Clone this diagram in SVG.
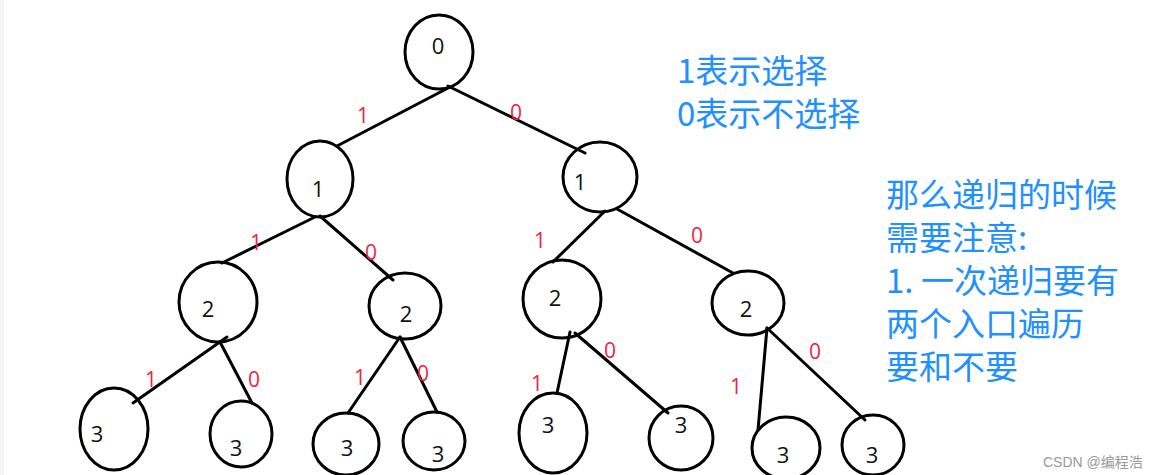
<svg xmlns="http://www.w3.org/2000/svg" width="1158" height="475" viewBox="0 0 1158 475">
<style>
.n ellipse{fill:none;stroke:#000;stroke-width:3}
.n text{font-family:"Open Sans","Liberation Sans",sans-serif;font-size:22px;fill:#111;text-anchor:middle}
#edges line{stroke:#000;stroke-width:3;stroke-linecap:round}
.lb{font-family:"Open Sans","Liberation Sans",sans-serif;font-size:21px;fill:#f0243c;text-anchor:middle}
.note{font-family:"Noto Sans CJK SC","Noto Sans",sans-serif;font-size:33px;fill:#1e90ff}
.wm{font-family:"Liberation Sans","Noto Sans CJK SC",sans-serif;font-size:14px;fill:#999}
</style>
<rect width="1158" height="475" fill="#fff"/>
<rect width="4" height="475" fill="#f3f5f8"/>
<g id="edges">
<line x1="450" y1="87" x2="337" y2="146"/>
<line x1="448" y1="86" x2="585" y2="153"/>
<line x1="315" y1="217" x2="222" y2="263"/>
<line x1="320" y1="216" x2="393" y2="280"/>
<line x1="605" y1="211" x2="553" y2="262"/>
<line x1="617" y1="209" x2="733" y2="273"/>
<line x1="227" y1="337" x2="133" y2="403"/>
<line x1="220" y1="342" x2="252" y2="403"/>
<line x1="400" y1="337" x2="348" y2="413"/>
<line x1="400" y1="337" x2="437" y2="412"/>
<line x1="570" y1="332" x2="557" y2="393"/>
<line x1="575" y1="333" x2="668" y2="413"/>
<line x1="767" y1="328" x2="758" y2="430"/>
<line x1="767" y1="328" x2="865" y2="420"/>
<text class="lb" x="363" y="123">1</text>
<text class="lb" x="516" y="120">0</text>
<text class="lb" x="256" y="250">1</text>
<text class="lb" x="371" y="260">0</text>
<text class="lb" x="540" y="248">1</text>
<text class="lb" x="697" y="243">0</text>
<text class="lb" x="151" y="387">1</text>
<text class="lb" x="254" y="387">0</text>
<text class="lb" x="360" y="385">1</text>
<text class="lb" x="423" y="381">0</text>
<text class="lb" x="537" y="391">1</text>
<text class="lb" x="610" y="358">0</text>
<text class="lb" x="736" y="394">1</text>
<text class="lb" x="815" y="359">0</text>
</g>
<g id="n0" class="n"><ellipse cx="439" cy="52" rx="34" ry="37"/><text x="438" y="54">0</text></g>
<g id="n1a" class="n"><ellipse cx="320" cy="179" rx="33" ry="38"/><text x="318" y="197">1</text></g>
<g id="n1b" class="n"><ellipse cx="600" cy="177" rx="37" ry="35"/><text x="580" y="190">1</text></g>
<g id="n2a" class="n"><ellipse cx="218" cy="302" rx="39" ry="40"/><text x="208" y="317">2</text></g>
<g id="n2b" class="n"><ellipse cx="405" cy="306" rx="36" ry="33"/><text x="406" y="322">2</text></g>
<g id="n2c" class="n"><ellipse cx="562" cy="299" rx="39" ry="39"/><text x="555" y="306">2</text></g>
<g id="n2d" class="n"><ellipse cx="748" cy="303" rx="36" ry="32"/><text x="746" y="317">2</text></g>
<g id="n3a" class="n"><ellipse cx="114" cy="429" rx="34" ry="41"/><text x="97" y="442">3</text></g>
<g id="n3b" class="n"><ellipse cx="241" cy="434" rx="31" ry="33"/><text x="236" y="456">3</text></g>
<g id="n3c" class="n"><ellipse cx="346" cy="444" rx="33" ry="31"/><text x="347" y="456">3</text></g>
<g id="n3d" class="n"><ellipse cx="434" cy="441" rx="31" ry="29"/><text x="438" y="462">3</text></g>
<g id="n3e" class="n"><ellipse cx="553" cy="433" rx="34" ry="40"/><text x="548" y="433">3</text></g>
<g id="n3f" class="n"><ellipse cx="681" cy="438" rx="32" ry="32"/><text x="681" y="433">3</text></g>
<g id="n3g" class="n"><ellipse cx="786" cy="448" rx="34" ry="31"/><text x="783" y="463">3</text></g>
<g id="n3h" class="n"><ellipse cx="873" cy="445" rx="31" ry="30"/><text x="872" y="463">3</text></g>
<g id="notes">
<text class="note" x="677" y="83">1表示选择</text>
<text class="note" x="677" y="126">0表示不选择</text>
<text class="note" x="886" y="207">那么递归的时候</text>
<text class="note" x="886" y="250">需要注意:</text>
<text class="note" x="886" y="293">1. 一次递归要有</text>
<text class="note" x="886" y="336">两个入口遍历</text>
<text class="note" x="886" y="379">要和不要</text>
</g>
<text class="wm" x="1043" y="467">CSDN @编程浩</text>
</svg>
